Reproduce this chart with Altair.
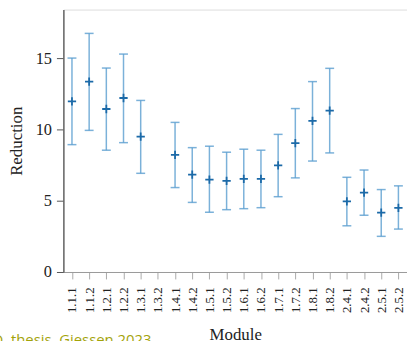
import altair as alt
import pandas as pd

# Module identifiers along the x axis
modules = ["1.1.1", "1.1.2", "1.2.1", "1.2.2", "1.3.1", "1.3.2", "1.4.1", "1.4.2",
           "1.5.1", "1.5.2", "1.6.1", "1.6.2", "1.7.1", "1.7.2", "1.8.1", "1.8.2",
           "2.4.1", "2.4.2", "2.5.1", "2.5.2"]
# Mean reduction and interval bounds per module (None: no measurement)
mean = [11.97, 13.35, 11.43, 12.2, 9.49, None, 8.21, 6.83, 6.48, 6.39, 6.53, 6.53,
        7.47, 9.03, 10.6, 11.32, 4.95, 5.56, 4.17, 4.49]
low = [8.93, 9.93, 8.54, 9.07, 6.92, None, 5.92, 4.88, 4.19, 4.37, 4.44, 4.51,
       5.28, 6.6, 7.78, 8.35, 3.24, 3.98, 2.5, 3.01]
high = [15.0, 16.73, 14.3, 15.28, 12.03, None, 10.49, 8.72, 8.82, 8.4, 8.61, 8.54,
        9.65, 11.46, 13.35, 14.28, 6.64, 7.15, 5.78, 6.04]

df = pd.DataFrame({"module": modules, "mean": mean, "low": low, "high": high})
df_valid = df.dropna()

serif = "Liberation Serif"
bar_color = "#5a9dd0"
mark_color = "#1c6aa8"

x_scale = alt.Scale(type="point", padding=0.5, domain=modules)
x_enc = alt.X("module:N", sort=modules, title="Module", scale=x_scale,
              axis=alt.Axis(labelAngle=-90, labelFont=serif, labelFontSize=13,
                            labelColor="#222", labelPadding=8,
                            tickColor="#aaaaaa", tickSize=7, domainColor="#999999",
                            titleFont=serif, titleFontSize=17, titleFontWeight="normal",
                            titleColor="#222", titlePadding=14))
y_scale = alt.Scale(domain=[0, 18.4], nice=False, zero=True)

base = alt.Chart(df_valid)

bars = base.mark_rule(color=bar_color, strokeWidth=1.5, opacity=0.8).encode(
    x=x_enc,
    y=alt.Y("low:Q", scale=y_scale, title="Reduction",
            axis=alt.Axis(values=[0, 5, 10, 15], labelFont=serif, labelFontSize=16.5,
                          labelColor="#222", tickColor="#555555", tickSize=7,
                          labelPadding=5, domainColor="#666666", domainWidth=1.5,
                          grid=False, titleFont=serif, titleFontSize=17,
                          titleFontWeight="normal", titleColor="#222", titlePadding=10)),
    y2="high:Q",
)

cap_low = base.mark_tick(color=bar_color, orient="horizontal", size=9,
                         thickness=1.5, opacity=0.8).encode(
    x=alt.X("module:N", sort=modules, scale=x_scale),
    y=alt.Y("low:Q", scale=y_scale),
)
cap_high = base.mark_tick(color=bar_color, orient="horizontal", size=9,
                          thickness=1.5, opacity=0.8).encode(
    x=alt.X("module:N", sort=modules, scale=x_scale),
    y=alt.Y("high:Q", scale=y_scale),
)

means = base.mark_point(shape="M-1,0H1M0,-1V1", size=70, filled=False,
                        color=mark_color, strokeWidth=1.8, opacity=1).encode(
    x=alt.X("module:N", sort=modules, scale=x_scale),
    y=alt.Y("mean:Q", scale=y_scale),
)

note = alt.Chart(pd.DataFrame({"t": ["Ph.D. thesis, Giessen 2023"]})).mark_text(
    align="right", baseline="alphabetic", font="Open Sans", fontSize=15,
    color="#a3a30a",
).encode(text="t:N", x=alt.value(89), y=alt.value(339))

chart = alt.layer(bars, cap_low, cap_high, means, note).properties(
    width=347, height=265,
    autosize=alt.AutoSizeParams(type="none"),
    padding={"left": 64, "top": 8, "right": 0, "bottom": 68},
).configure_view(stroke="#8a8a8a", strokeWidth=1.5).configure(background="white")

chart.save("out.html", embed_options={"renderer": "svg", "actions": False})
